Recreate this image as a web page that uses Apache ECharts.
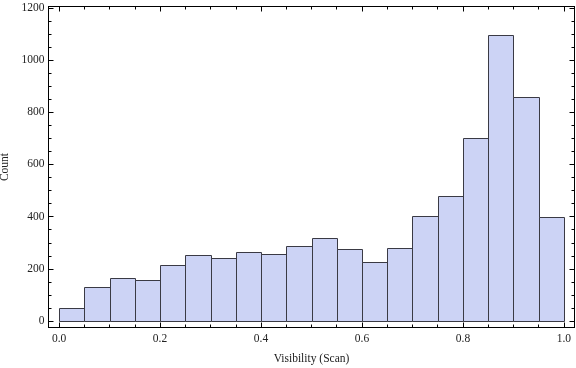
<!DOCTYPE html>
<html><head><meta charset="utf-8">
<script src="https://cdn.jsdelivr.net/npm/echarts@6/dist/echarts.min.js"></script>
<style>html,body{margin:0;padding:0;background:#fff}#c{width:576px;height:368px}</style>
</head><body><div id="c"></div>
<script>
const binStarts = [0.00,0.05,0.10,0.15,0.20,0.25,0.30,0.35,0.40,0.45,0.50,0.55,0.60,0.65,0.70,0.75,0.80,0.85,0.90,0.95];
const binEnds   = [0.05,0.10,0.15,0.20,0.25,0.30,0.35,0.40,0.45,0.50,0.55,0.60,0.65,0.70,0.75,0.80,0.85,0.90,0.95,1.00];
const counts    = [51,130,164,157,214,252,241,264,256,287,317,276,225,280,401,481,700,1094,860,399];
const xMajor = [0,0.2,0.4,0.6,0.8,1.0];
const xMinor = [0.05,0.1,0.15,0.25,0.3,0.35,0.45,0.5,0.55,0.65,0.7,0.75,0.85,0.9,0.95];
const yMajor = [0,200,400,600,800,1000,1200];
const yMinor = [50,100,150,250,300,350,450,500,550,650,700,750,850,900,950,1050,1100,1150];

const font = "'Liberation Serif', 'DejaVu Serif', serif";
const txt = '#222';
const XMIN = -0.021, XMAX = 1.021, YMIN = -24.5, YMAX = 1205;

function xAx(pos, ticks, len, labels) {
  return {
    type: 'value', position: pos, min: XMIN, max: XMAX,
    axisLine: {show: true, onZero: false, lineStyle: {color: '#000', width: 1}},
    axisTick: {show: true, inside: true, length: len, customValues: ticks, lineStyle: {color: '#000'}},
    axisLabel: labels ? {show: true, customValues: ticks, formatter: v => v.toFixed(1), fontFamily: font, fontSize: 11.5, color: txt, margin: 5} : {show: false},
    splitLine: {show: false}
  };
}
function yAx(pos, ticks, len, labels) {
  return {
    type: 'value', position: pos, min: YMIN, max: YMAX,
    axisLine: {show: true, onZero: false, lineStyle: {color: '#000', width: 1}},
    axisTick: {show: true, inside: true, length: len, customValues: ticks, lineStyle: {color: '#000'}},
    axisLabel: labels ? {show: true, customValues: ticks, formatter: v => String(v), fontFamily: font, fontSize: 11.5, color: txt, margin: 4} : {show: false},
    splitLine: {show: false}
  };
}

const xs = [xAx('bottom', xMajor, 5, true), xAx('bottom', xMinor, 3, false), xAx('top', xMajor, 5, false), xAx('top', xMinor, 3, false)];
xs[0].name = 'Visibility (Scan)'; xs[0].nameLocation = 'middle'; xs[0].nameGap = 25;
xs[0].nameTextStyle = {fontFamily: font, fontSize: 11.5, color: txt};
const ys = [yAx('left', yMajor, 5, true), yAx('left', yMinor, 3, false), yAx('right', yMajor, 5, false), yAx('right', yMinor, 3, false)];
ys[0].name = 'Count'; ys[0].nameLocation = 'middle'; ys[0].nameGap = 35;
ys[0].nameTextStyle = {fontFamily: font, fontSize: 11.5, color: txt};

const data = binStarts.map((s, i) => [s, binEnds[i], counts[i]]);

const chart = echarts.init(document.getElementById('c'), null, {renderer: 'canvas'});
chart.setOption({
  animation: false,
  grid: {left: 48.5, right: 1.5, top: 6.5, bottom: 40.5, containLabel: false, outerBoundsMode: 'none'},
  xAxis: xs,
  yAxis: ys,
  series: [{
    type: 'custom',
    xAxisIndex: 0, yAxisIndex: 0,
    data: data,
    encode: {x: [0, 1], y: 2},
    renderItem: function (params, api) {
      const p0 = api.coord([api.value(0), api.value(2)]);
      const p1 = api.coord([api.value(1), 0]);
      return {
        type: 'rect',
        shape: {x: Math.round(p0[0]) + 0.5, y: Math.round(p0[1]) + 0.5, width: Math.round(p1[0]) - Math.round(p0[0]), height: Math.round(p1[1]) - Math.round(p0[1])},
        style: {fill: '#ccd3f5', stroke: '#3a3a44', lineWidth: 1}
      };
    }
  }]
});
</script></body></html>
